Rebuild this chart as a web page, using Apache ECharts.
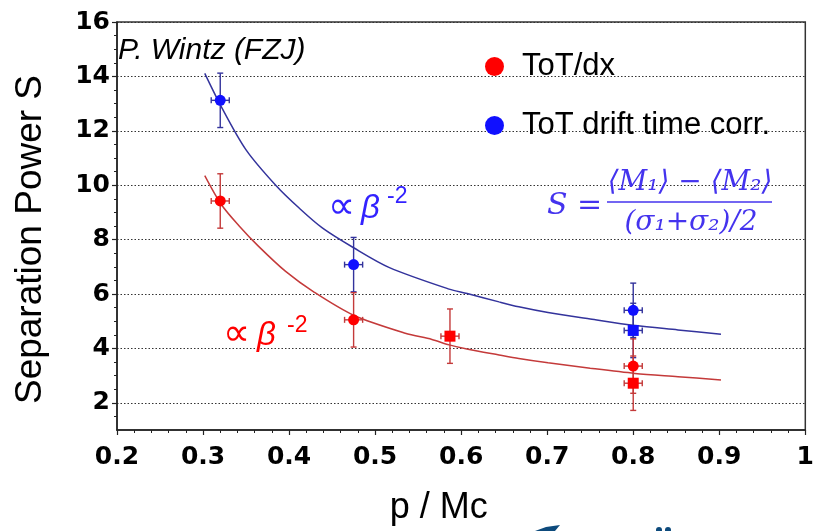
<!DOCTYPE html>
<html>
<head>
<meta charset="utf-8">
<script src="https://cdn.jsdelivr.net/npm/echarts@6/dist/echarts.min.js"></script>
<style>
  html, body { margin: 0; padding: 0; background: #fff; }
  #chart { width: 817px; height: 531px; }
</style>
</head>
<body>
<div id="chart"></div>
<script>
// measured points [p/Mc, S]
const redCircles = [[0.32, 9.42], [0.475, 5.05], [0.8, 3.35]];
const redSquares = [[0.587, 4.45], [0.8, 2.72]];
const blueCircles = [[0.32, 13.12], [0.475, 7.08], [0.8, 5.4]];
const blueSquares = [[0.8, 4.66]];

// errors [dx, dS], same order as the points above
const redCircleErr = [[0.0105, 1.0], [0.0105, 1.0], [0.0105, 1.0]];
const redSquareErr = [[0.0105, 1.0], [0.0105, 1.0]];
const blueCircleErr = [[0.0105, 1.0], [0.0105, 1.0], [0.0105, 1.0]];
const blueSquareErr = [[0.0105, 1.0]];

// beta^-2 fit curves
const redFit = [[0.302, 10.35], [0.321, 9.3], [0.342, 8.5], [0.364, 7.77], [0.396, 6.83],
  [0.429, 6.07], [0.475, 5.22], [0.535, 4.56], [0.566, 4.33], [0.586, 4.13], [0.608, 3.97],
  [0.644, 3.76], [0.667, 3.63], [0.701, 3.47], [0.75, 3.27], [0.802, 3.08], [0.852, 2.96],
  [0.902, 2.84]];
const blueFit = [[0.302, 14.11], [0.321, 12.9], [0.35, 11.3], [0.385, 9.98], [0.412, 9.15],
  [0.439, 8.42], [0.475, 7.7], [0.516, 6.98], [0.586, 6.18], [0.607, 6.02], [0.644, 5.71],
  [0.667, 5.53], [0.701, 5.32], [0.75, 5.08], [0.802, 4.84], [0.852, 4.68], [0.902, 4.52]];

const yLabelValues = [2, 4, 6, 8, 10, 12, 14, 16];

const RED = "#ff0000";
const RED_DARK = "#c43a3a";
const BLUE = "#1010ff";
const BLUE_DARK = "#33339c";
const FORMULA = "#4433ee";

function withErr(points, errs) {
  return points.map((p, i) => [p[0], p[1], errs[i][0], errs[i][1]]);
}

function errorBars(color) {
  return function (params, api) {
    const x = api.value(0), y = api.value(1), dx = api.value(2), dy = api.value(3);
    const top = api.coord([x, y + dy]);
    const bot = api.coord([x, y - dy]);
    const l = api.coord([x - dx, y]);
    const r = api.coord([x + dx, y]);
    const c = 3;
    const st = { stroke: color, lineWidth: 1.4 };
    const seg = (x1, y1, x2, y2) => ({ type: "line", shape: { x1, y1, x2, y2 }, style: st });
    return {
      type: "group",
      children: [
        seg(top[0], top[1], bot[0], bot[1]),
        seg(top[0] - c, top[1], top[0] + c, top[1]),
        seg(bot[0] - c, bot[1], bot[0] + c, bot[1]),
        seg(l[0], l[1], r[0], r[1]),
        seg(l[0], l[1] - c, l[0], l[1] + c),
        seg(r[0], r[1] - c, r[0], r[1] + c),
      ],
    };
  };
}

const chart = echarts.init(document.getElementById("chart"));

const option = {
  animation: false,
  grid: {
    left: 117, right: 7, top: 22, bottom: 98,
    show: true, borderColor: "#333", borderWidth: 1.5, backgroundColor: "transparent",
  },
  legend: {
    data: ["ToT/dx", "ToT drift time corr."],
    orient: "vertical",
    left: 485, top: 51,
    padding: 0,
    icon: "circle",
    itemWidth: 19, itemHeight: 19,
    itemGap: 28,
    selectedMode: false,
    textStyle: {
      fontFamily: "Liberation Sans", fontSize: 31, color: "#000",
      lineHeight: 31, padding: [0, 0, 0, 13],
    },
  },
  xAxis: {
    type: "value",
    min: 0.2, max: 1.0, interval: 0.1,
    name: "p / Mc",
    nameLocation: "middle",
    nameGap: 60,
    nameTextStyle: {
      fontFamily: "Liberation Sans", fontSize: 36, color: "#000", padding: [0, 45, 0, 0],
    },
    axisLine: { show: true, onZero: false, lineStyle: { color: "#222", width: 1.5 } },
    axisTick: { show: true, inside: false, length: 5, lineStyle: { color: "#222", width: 1.2 } },
    minorTick: { show: true, splitNumber: 5, length: 3, lineStyle: { color: "#222", width: 1 } },
    splitLine: { show: false },
    axisLabel: {
      margin: 15,
      fontFamily: "DejaVu Sans", fontWeight: "bold", fontSize: 25, color: "#000",
      formatter: v => String(+v.toFixed(1)),
    },
  },
  yAxis: {
    type: "value",
    min: 1, max: 16, splitNumber: 7,
    name: "Separation Power S",
    nameLocation: "middle",
    nameGap: 68,
    nameTextStyle: {
      fontFamily: "Liberation Sans", fontSize: 37, color: "#000", padding: [0, 27, 0, 0],
    },
    axisLine: { show: true, onZero: false, lineStyle: { color: "#222", width: 1.5 } },
    axisTick: {
      show: true, inside: false, length: 5, customValues: yLabelValues,
      lineStyle: { color: "#222", width: 1.2 },
    },
    minorTick: { show: true, splitNumber: 4, length: 3, lineStyle: { color: "#222", width: 1 } },
    splitLine: { show: true, lineStyle: { color: "#333", width: 1.1, type: [1.5, 2] } },
    axisLabel: {
      margin: 7, customValues: yLabelValues,
      fontFamily: "DejaVu Sans", fontWeight: "bold", fontSize: 25, color: "#000",
    },
  },
  series: [
    {
      type: "line", data: blueFit, smooth: 0.3, showSymbol: false, silent: true,
      lineStyle: { color: BLUE_DARK, width: 1.5 }, z: 1,
    },
    {
      type: "line", data: redFit, smooth: 0.3, showSymbol: false, silent: true,
      lineStyle: { color: RED_DARK, width: 1.5 }, z: 1,
    },
    {
      type: "custom", data: withErr(blueCircles, blueCircleErr).concat(withErr(blueSquares, blueSquareErr)),
      renderItem: errorBars(BLUE_DARK), encode: { x: 0, y: 1 }, silent: true, z: 2,
    },
    {
      type: "custom", data: withErr(redCircles, redCircleErr).concat(withErr(redSquares, redSquareErr)),
      renderItem: errorBars(RED_DARK), encode: { x: 0, y: 1 }, silent: true, z: 3,
    },
    {
      name: "ToT/dx", type: "scatter", data: redCircles, symbol: "circle", symbolSize: 11,
      itemStyle: { color: RED, opacity: 1 }, z: 4,
    },
    {
      name: "ToT/dx", type: "scatter", data: redSquares, symbol: "rect", symbolSize: 11,
      itemStyle: { color: RED, opacity: 1 }, z: 4,
    },
    {
      name: "ToT drift time corr.", type: "scatter", data: blueCircles, symbol: "circle", symbolSize: 11,
      itemStyle: { color: BLUE, opacity: 1 }, z: 4,
    },
    {
      name: "ToT drift time corr.", type: "scatter", data: blueSquares, symbol: "rect", symbolSize: 11,
      itemStyle: { color: BLUE, opacity: 1 }, z: 4,
    },
  ],
  graphic: [
    {
      type: "text", left: 118, top: 36, z: 10,
      style: { text: "P. Wintz (FZJ)", font: "italic 30px 'Liberation Sans'", fill: "#000" },
    },
    {
      type: "text", x: 328, y: 208, z: 10,
      style: { text: "∝", font: "italic 38px 'DejaVu Sans'", fill: "#3322ff", verticalAlign: "middle" },
    },
    {
      type: "text", x: 361, y: 209, z: 10,
      style: { text: "β", font: "italic 33px 'Liberation Sans'", fill: "#3322ff", verticalAlign: "middle" },
    },
    {
      type: "text", x: 387, y: 197, z: 10,
      style: { text: "-2", font: "23px 'Liberation Sans'", fill: "#3322ff", verticalAlign: "middle" },
    },
    {
      type: "text", x: 223, y: 335, z: 10,
      style: { text: "∝", font: "italic 38px 'DejaVu Sans'", fill: RED, verticalAlign: "middle" },
    },
    {
      type: "text", x: 257, y: 336, z: 10,
      style: { text: "β", font: "italic 33px 'Liberation Sans'", fill: RED, verticalAlign: "middle" },
    },
    {
      type: "text", x: 287, y: 326, z: 10,
      style: { text: "-2", font: "23px 'Liberation Sans'", fill: RED, verticalAlign: "middle" },
    },
    {
      type: "text", x: 547, y: 206, z: 10,
      style: { text: "S =", font: "italic 30px 'DejaVu Serif'", fill: FORMULA, verticalAlign: "middle" },
    },
    {
      type: "text", x: 690, y: 183, z: 10,
      style: {
        text: "⟨M₁⟩ − ⟨M₂⟩", font: "italic 28px 'DejaVu Serif'", fill: FORMULA,
        align: "center", verticalAlign: "middle",
      },
    },
    {
      type: "line", z: 10,
      shape: { x1: 607, y1: 202, x2: 772, y2: 202 },
      style: { stroke: FORMULA, lineWidth: 1.6 },
    },
    {
      type: "text", x: 691, y: 223, z: 10,
      style: {
        text: "(σ₁+σ₂)/2", font: "italic 28px 'DejaVu Serif'", fill: FORMULA,
        align: "center", verticalAlign: "middle",
      },
    },
    // cut-off logo at the bottom edge
    {
      type: "polygon", z: 10,
      shape: { points: [[535, 531], [546, 527], [560, 525], [555, 531]] },
      style: { fill: "#0d4a7c" },
    },
    { type: "circle", z: 10, shape: { cx: 659, cy: 530, r: 3 }, style: { fill: "#0d4a7c" } },
    { type: "circle", z: 10, shape: { cx: 668, cy: 530, r: 3 }, style: { fill: "#0d4a7c" } },
  ],
};

chart.setOption(option);
</script>
</body>
</html>
